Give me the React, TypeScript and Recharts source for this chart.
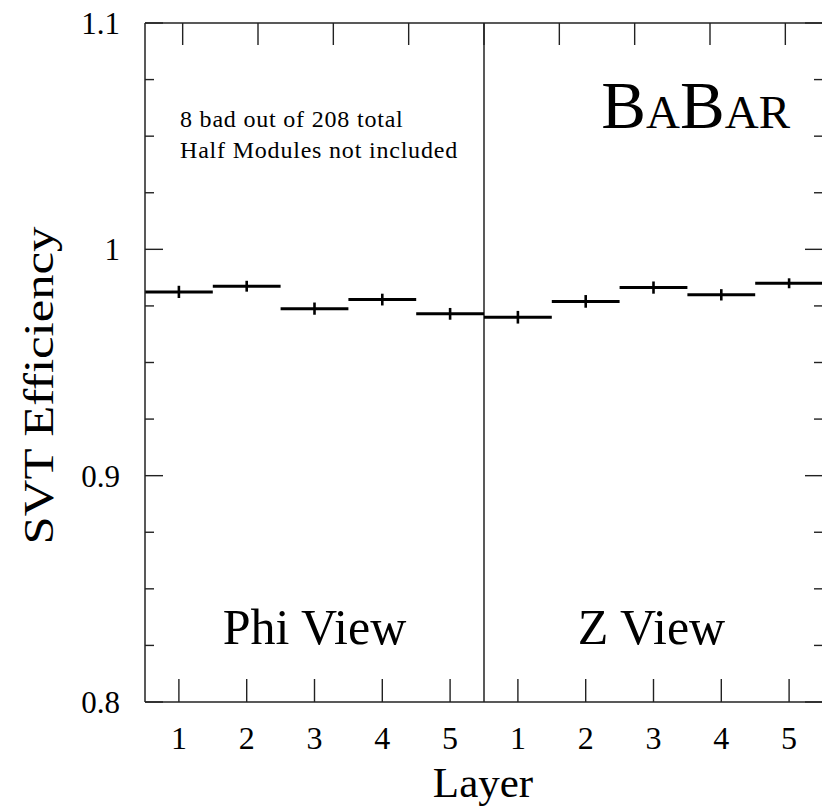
import React from "react";
import {
  ComposedChart,
  Scatter,
  ErrorBar,
  XAxis,
  YAxis,
  ReferenceLine,
  ReferenceArea,
  Label,
} from "recharts";

// layers per view, efficiencies and their errors
const views = ["Phi View", "Z View"];
const layers = ["1", "2", "3", "4", "5"];
const phiEfficiency = [0.9812, 0.9837, 0.9738, 0.9778, 0.9715];
const phiError = [0.0027, 0.0024, 0.0027, 0.0026, 0.0026];
const zEfficiency = [0.97, 0.977, 0.9831, 0.9799, 0.985];
const zError = [0.0028, 0.0028, 0.0027, 0.0025, 0.0022];
const binHalfWidth = 0.5;

const yTicks = [0.8, 0.825, 0.85, 0.875, 0.9, 0.925, 0.95, 0.975, 1, 1.025, 1.05, 1.075, 1.1];
const notes = ["8 bad out of 208 total", "Half Modules not included"];

const FONT = "'Liberation Serif', 'Times New Roman', serif";
const INK = "#000";
const FRAME = "#222";

const rows = [phiEfficiency, zEfficiency].flatMap((effs, v) =>
  effs.map((eff, i) => ({
    bin: v * layers.length + i + 0.5,
    layer: layers[i],
    eff,
    yErr: (v === 0 ? phiError : zError)[i],
    xErr: binHalfWidth,
  }))
);
const xTicks = rows.map((r) => r.bin);
const layerAt = (val: number) => rows.find((r) => Math.abs(r.bin - val) < 1e-6)?.layer ?? "";
const isMajor = (v: number) => Math.abs(v * 10 - Math.round(v * 10)) < 1e-6;

function BottomTick({ x, y, payload }: any) {
  return (
    <g>
      <line x1={x} x2={x} y1={y} y2={y - 23} stroke={FRAME} strokeWidth={1.4} />
      <text x={x} y={y + 47} textAnchor="middle" fontFamily={FONT} fontSize={32} fill={INK}>
        {layerAt(payload.value)}
      </text>
    </g>
  );
}

function TopTick({ x, y }: any) {
  return <line x1={x} x2={x} y1={y} y2={y + 22} stroke={FRAME} strokeWidth={1.4} />;
}

function LeftTick({ x, y, payload }: any) {
  const major = isMajor(payload.value);
  return (
    <g>
      <line x1={x} x2={x + (major ? 18 : 9)} y1={y} y2={y} stroke={FRAME} strokeWidth={1.4} />
      {major && (
        <text x={x - 25} y={y + 11} textAnchor="end" fontFamily={FONT} fontSize={31} fill={INK}>
          {String(Number(payload.value.toFixed(3)))}
        </text>
      )}
    </g>
  );
}

function RightTick({ x, y, payload }: any) {
  const major = isMajor(payload.value);
  return <line x1={x - (major ? 18 : 9)} x2={x} y1={y} y2={y} stroke={FRAME} strokeWidth={1.4} />;
}

export default function App() {
  return (
    <div style={{ position: "absolute", left: 0, top: 0, width: 822, height: 809, overflow: "hidden", background: "#fff" }}>
      <ComposedChart width={824} height={809} data={rows} margin={{ top: 22, right: 0, bottom: 0, left: 0 }}>
        <XAxis
          type="number"
          dataKey="bin"
          domain={[0, 10]}
          ticks={xTicks}
          interval={0}
          tickSize={0}
          tickMargin={0}
          tickLine={false}
          tick={<BottomTick />}
          height={107}
          axisLine={{ stroke: FRAME, strokeWidth: 1.5 }}
          allowDataOverflow
        >
          <Label
            content={({ viewBox }: any) => (
              <text
                x={viewBox.x + viewBox.width / 2 - 1}
                y={viewBox.y + 95}
                textAnchor="middle"
                fontFamily={FONT}
                fontSize={43}
                fill={INK}
              >
                Layer
              </text>
            )}
          />
        </XAxis>
        <XAxis
          xAxisId="top"
          orientation="top"
          type="number"
          domain={[0, 10]}
          ticks={xTicks}
          interval={0}
          tickSize={0}
          tickMargin={0}
          tickLine={false}
          tick={<TopTick />}
          height={1}
          axisLine={{ stroke: FRAME, strokeWidth: 1.5 }}
          allowDataOverflow
        />
        <YAxis
          type="number"
          domain={[0.8, 1.1]}
          ticks={yTicks}
          interval={0}
          tickSize={0}
          tickMargin={0}
          tickLine={false}
          tick={<LeftTick />}
          width={145}
          axisLine={{ stroke: FRAME, strokeWidth: 1.5 }}
          allowDataOverflow
        >
          <Label
            content={({ viewBox }: any) => {
              const cx = 53;
              const cy = viewBox.y + viewBox.height / 2 + 23;
              return (
                <text
                  transform={`translate(${cx},${cy}) rotate(-90) scale(1.18,1)`}
                  textAnchor="middle"
                  fontFamily={FONT}
                  fontSize={43}
                  fill={INK}
                >
                  SVT Efficiency
                </text>
              );
            }}
          />
        </YAxis>
        <YAxis
          yAxisId="right"
          orientation="right"
          type="number"
          domain={[0.8, 1.1]}
          ticks={yTicks}
          interval={0}
          tickSize={0}
          tickMargin={0}
          tickLine={false}
          tick={<RightTick />}
          width={1}
          axisLine={{ stroke: FRAME, strokeWidth: 1.5 }}
          allowDataOverflow
        />

        <ReferenceArea
          x1={0}
          x2={5}
          y1={0.8}
          y2={1.1}
          fill="none"
          stroke="none"
          label={({ viewBox }: any) => (
            <g>
              {notes.map((n, i) => (
                <text
                  key={n}
                  x={viewBox.x + 35}
                  y={viewBox.y + 104 + i * 31}
                  fontFamily={FONT}
                  fontSize={24}
                  letterSpacing={0.8}
                  fill={INK}
                >
                  {n}
                </text>
              ))}
              <text
                x={viewBox.x + viewBox.width / 2}
                y={viewBox.y + viewBox.height - 58}
                textAnchor="middle"
                fontFamily={FONT}
                fontSize={50}
                fill={INK}
              >
                {views[0]}
              </text>
            </g>
          )}
        />
        <ReferenceArea
          x1={5}
          x2={10}
          y1={0.8}
          y2={1.1}
          fill="none"
          stroke="none"
          label={({ viewBox }: any) => (
            <g>
              <text
                x={viewBox.x + viewBox.width - 33}
                y={viewBox.y + 105}
                textAnchor="end"
                fontFamily={FONT}
                fill={INK}
              >
                <tspan fontSize={67}>B</tspan>
                <tspan fontSize={47}>A</tspan>
                <tspan fontSize={67}>B</tspan>
                <tspan fontSize={47}>AR</tspan>
              </text>
              <text
                x={viewBox.x + viewBox.width / 2 - 2}
                y={viewBox.y + viewBox.height - 58}
                textAnchor="middle"
                fontFamily={FONT}
                fontSize={50}
                fill={INK}
              >
                {views[1]}
              </text>
            </g>
          )}
        />
        <ReferenceLine x={5} stroke={FRAME} strokeWidth={1.5} />

        <Scatter dataKey="eff" isAnimationActive={false} shape={() => <g />}>
          <ErrorBar dataKey="xErr" direction="x" width={0} stroke={INK} strokeWidth={3} isAnimationActive={false} />
          <ErrorBar dataKey="yErr" direction="y" width={0} stroke={INK} strokeWidth={2.6} isAnimationActive={false} />
        </Scatter>
      </ComposedChart>
    </div>
  );
}
